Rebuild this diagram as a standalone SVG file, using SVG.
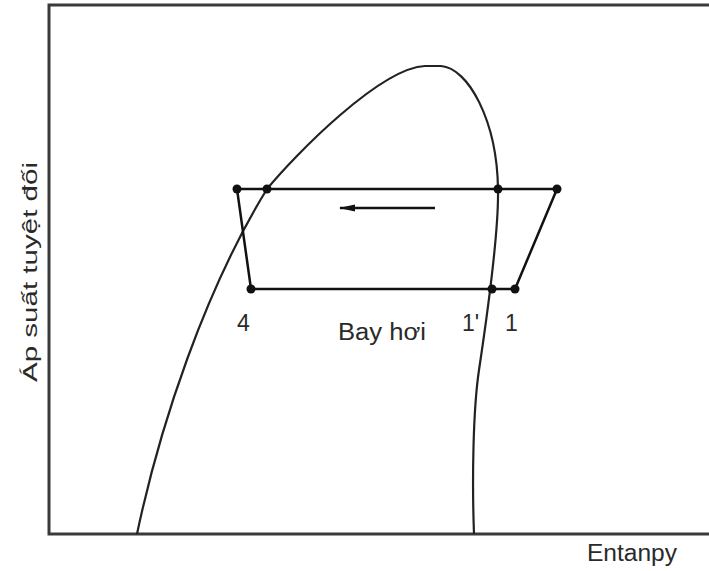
<svg xmlns="http://www.w3.org/2000/svg" width="709" height="571" viewBox="0 0 709 571">
<defs>
<style>
.frame{fill:none;stroke:#3a3a3a;stroke-width:3}
.curve{fill:none;stroke:#222;stroke-width:2.2}
.cyc{fill:none;stroke:#111;stroke-width:2.5}
.dot{fill:#111}
.lbl{font-family:"Liberation Sans",Arial,sans-serif;font-size:23px;fill:#2a2a2a}
</style>
<marker id="ah" markerWidth="16" markerHeight="8" refX="15" refY="4" orient="auto" markerUnits="userSpaceOnUse">
<path d="M0,0.5 L16,4 L0,7.5 Z" fill="#111"/>
</marker>
</defs>
<rect width="709" height="571" fill="#fff"/>
<g id="frame">
<path class="frame" d="M709,5 H49 V534 H709"/>
</g>
<g id="saturation-dome">
<path class="curve" d="M137,534 C160,425 205,290 267,189 C295,155 380,68 425,66 L441,66 C468,68 497,120 498,189 C499,235 485,330 479,370 C473,410 472,480 474,534"/>
</g>
<g id="connectors">
<path class="cyc" d="M237,189 H557 L515,289 H251 Z"/>
<line class="cyc" x1="435" y1="208" x2="340" y2="208" marker-end="url(#ah)"/>
</g>
<g id="points">
<circle class="dot" cx="237" cy="189" r="4.5"/>
<circle class="dot" cx="267" cy="189" r="4.5"/>
<circle class="dot" cx="498" cy="189" r="4.5"/>
<circle class="dot" cx="557" cy="189" r="4.5"/>
<circle class="dot" cx="251" cy="289" r="4.5"/>
<circle class="dot" cx="492" cy="289" r="4.5"/>
<circle class="dot" cx="515" cy="289" r="4.5"/>
</g>
<g id="labels">
<text class="lbl" x="237" y="331">4</text>
<text class="lbl" x="338" y="340" textLength="88" lengthAdjust="spacingAndGlyphs">Bay hơi</text>
<text class="lbl" x="462" y="331">1'</text>
<text class="lbl" x="505" y="331">1</text>
<text class="lbl" x="587" y="561" textLength="90" lengthAdjust="spacingAndGlyphs">Entanpy</text>
<text class="lbl" transform="translate(37,382) rotate(-90)" style="font-size:20px" textLength="220" lengthAdjust="spacingAndGlyphs">Áp suất tuyệt đối</text>
</g>
</svg>
